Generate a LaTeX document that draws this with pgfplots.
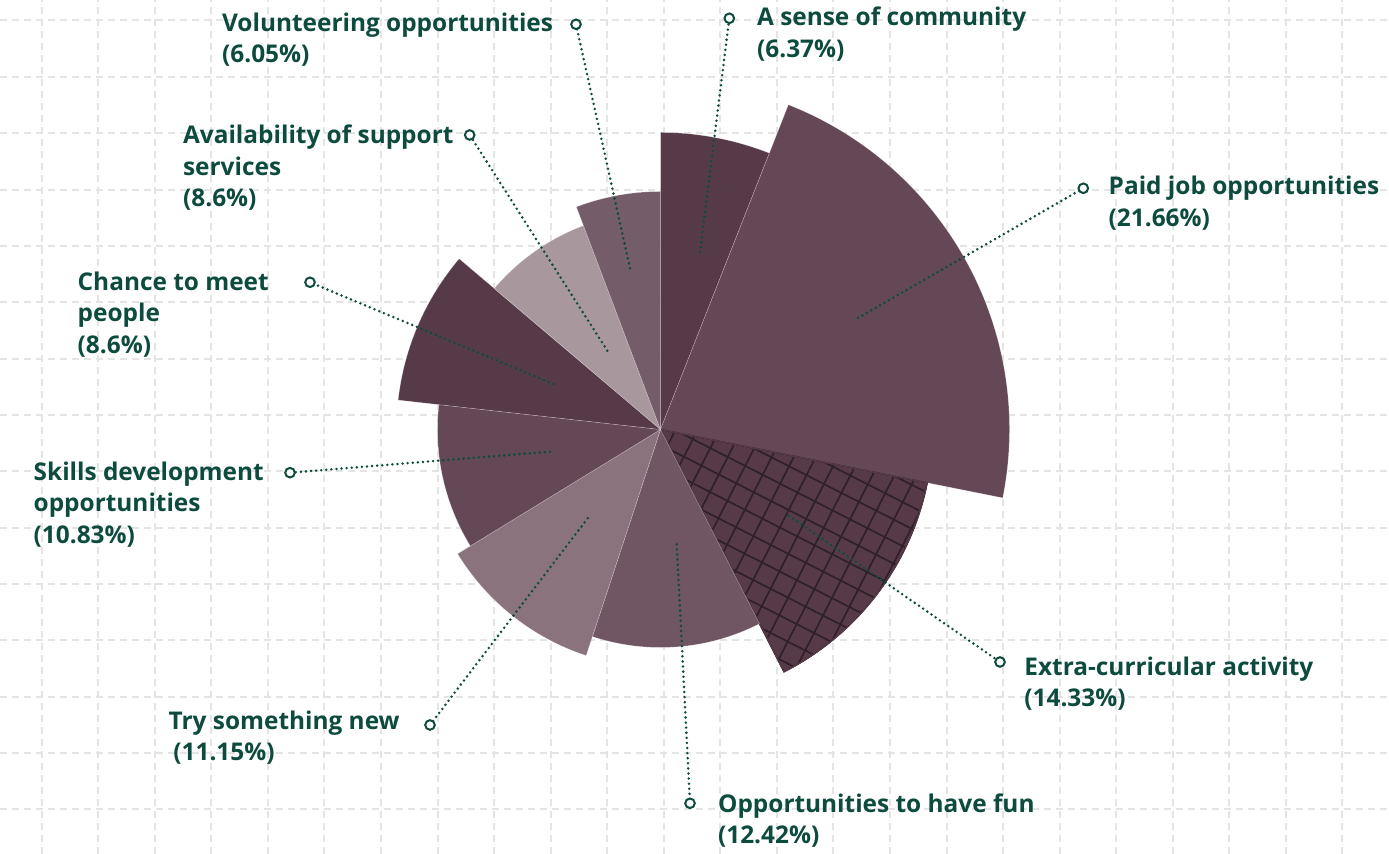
\documentclass[border=0pt]{standalone}
\usepackage{pgfplots}
\pgfplotsset{compat=1.18}
\usepackage{pgfplotstable}
\usepackage{fontspec}
\setmainfont{Open Sans}
\definecolor{secA}{HTML}{573A48}
\definecolor{secB}{HTML}{654856}
\definecolor{secC}{HTML}{705562}
\definecolor{secD}{HTML}{8B737D}
\definecolor{secE}{HTML}{A8979D}
\definecolor{secF}{HTML}{745C69}
\definecolor{hatchc}{HTML}{2E2128}
\definecolor{textc}{HTML}{0E4B3F}
\definecolor{gridc}{HTML}{E4E4E4}
\pgfdeclareplotmark{blank}{}

% sectors: centre (x,y), start/end angle (deg, ccw from east), outer radius, colour index (6 = secA hatched)
\pgfplotstableread{
x     y     a1      a2     r    c
660.5 424.5 68.5    90     297  0
660.5 424.5 -11.3   68.5   349  1
660.5 424.5 -63     -11.3  272  6
660.5 424.5 -108.2  -63    218  2
660.5 424.5 -148.5  -108.2 238  3
660.5 424.5 -186.4  -148.5 223  1
660.5 424.5 -220.3  -186.4 264  0
660.5 424.5 -249.3  -220.3 218  4
660.5 424.5 -270    -249.3 238  5
}\sectors

\newcommand{\lab}[3]{\node[anchor=base west, inner sep=0pt, text=textc, font=\fontsize{12.2}{15}\selectfont\bfseries] at (axis cs:#1,#2) {#3};}
\newcommand{\secpath}{(0,0) -- (\Aone:{\Rad*0.5pt}) arc[start angle=\Aone, end angle=\Atwo, radius={\Rad*0.5pt}] -- cycle}

\begin{document}
\begin{tikzpicture}
\begin{axis}[
  at={(0,0)}, anchor=south west,
  x=0.5pt, y=0.5pt,
  xmin=0, xmax=1389, ymin=0, ymax=854,
  set layers=standard,
  axis line style={draw=none},
  tick style={draw=none},
  xtick={41.7,98.25,...,1390},
  ytick={44.6,100.95,...,840},
  xticklabels={}, yticklabels={},
  grid=major,
  major grid style={draw=gridc, line width=1pt, dash pattern=on 3.5pt off 2.5pt},
  clip=false,
]
\addplot[scatter, only marks, mark=blank,
  visualization depends on={\thisrow{a1} \as \Aone},
  visualization depends on={\thisrow{a2} \as \Atwo},
  visualization depends on={\thisrow{r} \as \Rad},
  visualization depends on={\thisrow{c} \as \Col},
  scatter/@pre marker code/.code={%
    \pgfmathtruncatemacro\ci{\Col}%
    \ifcase\ci \def\cc{secA}\or \def\cc{secB}\or \def\cc{secC}\or \def\cc{secD}\or \def\cc{secE}\or \def\cc{secF}\or \def\cc{secA}\fi
    \ifnum\ci=6
      \fill[fill=\cc] \secpath;
      \begin{scope}
        \clip \secpath;
        \foreach \p in {-27,63}{%
          \foreach \k in {-15,...,15}{%
            \pgfmathsetmacro\dd{\k*9.8+3}%
            \draw[hatchc, line width=0.85pt]
              ({(-150*cos(\p)-\dd*sin(\p))*1pt}, {(-150*sin(\p)+\dd*cos(\p))*1pt}) --
              ({(150*cos(\p)-\dd*sin(\p))*1pt}, {(150*sin(\p)+\dd*cos(\p))*1pt});
          }%
        }%
      \end{scope}
      \draw[draw=secA, line width=0.7pt, line join=miter] \secpath;
    \else
      \fill[fill=\cc, draw=white, draw opacity=0.35, line width=0.25pt] \secpath;
    \fi
  },
  scatter/@post marker code/.code={},
] table[x=x, y=y] {\sectors};

% leader lines (dotted)
\pgfplotsset{leader/.style={textc, line width=1.4pt, line cap=round, dash pattern=on 0pt off 2.55pt, mark=none, on layer=axis foreground}}
\addplot[leader] coordinates {(700,601.7) (729.3,835.7)};
\addplot[leader] coordinates {(630,585.7) (576,829.7)};
\addplot[leader] coordinates {(607.3,503.3) (469.7,719)};
\addplot[leader] coordinates {(553.3,470) (310,571.7)};
\addplot[leader] coordinates {(550,402.3) (290,381.3)};
\addplot[leader] coordinates {(587.7,335.7) (430,129)};
\addplot[leader] coordinates {(676.7,309.7) (690,50.7)};
\addplot[leader] coordinates {(789,338.3) (1000,192)};
\addplot[leader] coordinates {(858,536) (1083.3,665.7)};

% end circles
\addplot[only marks, mark=*, mark size=2.4pt, mark options={fill=white, draw=textc, line width=1pt}, on layer=axis foreground, mark layer=axis foreground]
  coordinates {(729.3,835.7) (576,829.7) (469.7,719) (310,571.7) (290,381.3) (430,129) (690,50.7) (1000,192) (1083.3,665.7)};

% labels
\lab{756.7}{828}{A sense of community}
\lab{756.7}{796.7}{(6.37\%)}
\lab{221.7}{822.3}{Volunteering opportunities}
\lab{221.7}{791}{(6.05\%)}
\lab{182.7}{710}{Availability of support}
\lab{182.7}{678.7}{services}
\lab{182.7}{647.4}{(8.6\%)}
\lab{77.3}{563.3}{Chance to meet}
\lab{77.3}{532}{people}
\lab{77.3}{500.7}{(8.6\%)}
\lab{33.3}{373.3}{Skills development}
\lab{33.3}{342}{opportunities}
\lab{33.3}{310.7}{(10.83\%)}
\lab{1108.3}{659}{Paid job opportunities}
\lab{1108.3}{627.7}{(21.66\%)}
\lab{168.3}{124.7}{Try something new}
\lab{173}{93.4}{(11.15\%)}
\lab{717.7}{41.3}{Opportunities to have fun}
\lab{717.7}{10}{(12.42\%)}
\lab{1024}{178.5}{Extra-curricular activity}
\lab{1024}{147.2}{(14.33\%)}
\end{axis}
\pgfresetboundingbox
\path (0,0) rectangle (694.5pt,427pt);
\end{tikzpicture}
\end{document}
